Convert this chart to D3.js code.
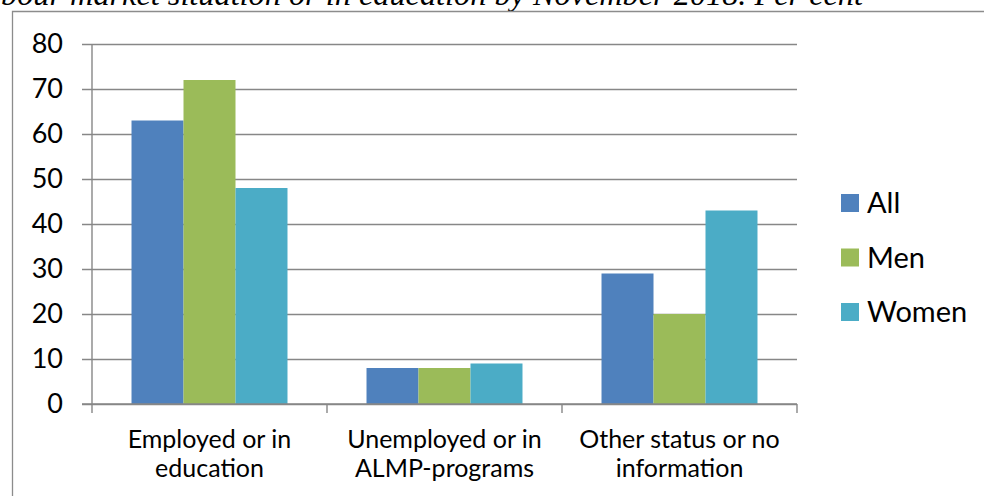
<!DOCTYPE html>
<html>
<head>
<meta charset="utf-8">
<script src="https://cdn.jsdelivr.net/npm/d3@7"></script>
<style>
  html, body { margin: 0; padding: 0; background: #fff; }
  svg { display: block; }
</style>
</head>
<body>
<svg id="chart" width="984" height="496"></svg>
<script>
// Labour market status by November 2018, per cent
const categories = [
  ["Employed or in", "education"],
  ["Unemployed or in", "ALMP-programs"],
  ["Other status or no", "information"]
];
const seriesNames = ["All", "Men", "Women"];
const allValues = [63, 8, 29];
const menValues = [72, 8, 20];
const womenValues = [48, 9, 43];
const yTicks = [0, 10, 20, 30, 40, 50, 60, 70, 80];
const titleText = "bour market situation or in education by November 2018. Per cent";

const colors = ["#4F81BD", "#9BBB59", "#4BACC6"];
const seriesValues = [allValues, menValues, womenValues];

const svg = d3.select("#chart");
const W = 984, H = 496;
const plot = { left: 92, right: 797, top: 44, bottom: 404 };
const gridColor = "#878787";
const labelFont = "Lato, 'Open Sans', 'DejaVu Sans', sans-serif";

// Caption line running above the framed chart
svg.append("text")
  .attr("x", 863)
  .attr("y", 5)
  .attr("text-anchor", "end")
  .attr("font-family", "'Liberation Serif', 'Times New Roman', serif")
  .attr("font-style", "italic")
  .attr("font-size", 32.3)
  .attr("fill", "#000")
  .text(titleText);

// Chart frame (top and left edges visible)
svg.append("path")
  .attr("d", `M12.5,${H} V11.5 H${W}`)
  .attr("fill", "none")
  .attr("stroke", "#8c8c8c")
  .attr("stroke-width", 1.3);

const x0 = d3.scaleBand()
  .domain(d3.range(categories.length))
  .range([plot.left, plot.right])
  .paddingInner(0)
  .paddingOuter(0);

const x1 = d3.scaleBand()
  .domain(d3.range(seriesNames.length))
  .range([0, x0.bandwidth()])
  .paddingInner(0)
  .paddingOuter(0.76);

const y = d3.scaleLinear()
  .domain([0, 80])
  .range([plot.bottom, plot.top]);

// Horizontal gridlines with short outward ticks
const yAxis = d3.axisLeft(y)
  .tickValues(yTicks)
  .tickSize(-(plot.right - plot.left))
  .tickSizeOuter(0)
  .tickPadding(0)
  .tickFormat("");

const gy = svg.append("g")
  .attr("transform", `translate(${plot.left},0)`)
  .call(yAxis);
gy.select(".domain").remove();
gy.selectAll(".tick line")
  .attr("x1", -10)
  .attr("stroke", gridColor)
  .attr("stroke-width", 1.4);

// Tick labels on the value axis
svg.append("g")
  .selectAll("text")
  .data(yTicks)
  .join("text")
  .attr("x", 63)
  .attr("y", d => y(d))
  .attr("dy", "0.35em")
  .attr("text-anchor", "end")
  .attr("font-family", labelFont)
  .attr("font-size", 27)
  .attr("fill", "#000")
  .text(d => d);

// Bars
const groups = svg.append("g")
  .selectAll("g")
  .data(categories.map((c, i) => i))
  .join("g")
  .attr("transform", i => `translate(${x0(i)},0)`);

groups.selectAll("rect")
  .data(i => seriesValues.map((vals, s) => ({ s, v: vals[i] })))
  .join("rect")
  .attr("x", d => x1(d.s))
  .attr("width", x1.bandwidth())
  .attr("y", d => y(d.v))
  .attr("height", d => y(0) - y(d.v))
  .attr("fill", d => colors[d.s]);

// Value axis line
svg.append("line")
  .attr("x1", plot.left).attr("x2", plot.left)
  .attr("y1", plot.top).attr("y2", plot.bottom)
  .attr("stroke", gridColor)
  .attr("stroke-width", 1.4);

// Category axis line and boundary ticks
svg.append("line")
  .attr("x1", plot.left - 10).attr("x2", plot.right)
  .attr("y1", plot.bottom).attr("y2", plot.bottom)
  .attr("stroke", gridColor)
  .attr("stroke-width", 1.4);

const boundaries = d3.range(categories.length + 1)
  .map(i => i < categories.length ? x0(i) : x0(i - 1) + x0.bandwidth());
svg.append("g")
  .selectAll("line")
  .data(boundaries)
  .join("line")
  .attr("x1", d => d).attr("x2", d => d)
  .attr("y1", plot.bottom).attr("y2", plot.bottom + 9)
  .attr("stroke", gridColor)
  .attr("stroke-width", 1.4);

// Category labels (two lines each)
const catLabels = svg.append("g")
  .selectAll("text")
  .data(categories)
  .join("text")
  .attr("x", (d, i) => x0(i) + x0.bandwidth() / 2)
  .attr("y", 448)
  .attr("text-anchor", "middle")
  .attr("font-family", labelFont)
  .attr("font-size", 25)
  .attr("fill", "#000");
catLabels.selectAll("tspan")
  .data(d => d)
  .join("tspan")
  .attr("x", function () { return this.parentNode.getAttribute("x"); })
  .attr("dy", (d, j) => j === 0 ? 0 : 29)
  .text(d => d);

// Legend
const legend = svg.append("g")
  .selectAll("g")
  .data(seriesNames)
  .join("g")
  .attr("transform", (d, i) => `translate(841,${194 + i * 54.5})`);
legend.append("rect")
  .attr("width", 18)
  .attr("height", 18)
  .attr("fill", (d, i) => colors[i]);
legend.append("text")
  .attr("x", 26)
  .attr("y", 9)
  .attr("dy", "0.35em")
  .attr("font-family", labelFont)
  .attr("font-size", 29)
  .attr("fill", "#000")
  .text(d => d);
</script>
</body>
</html>
